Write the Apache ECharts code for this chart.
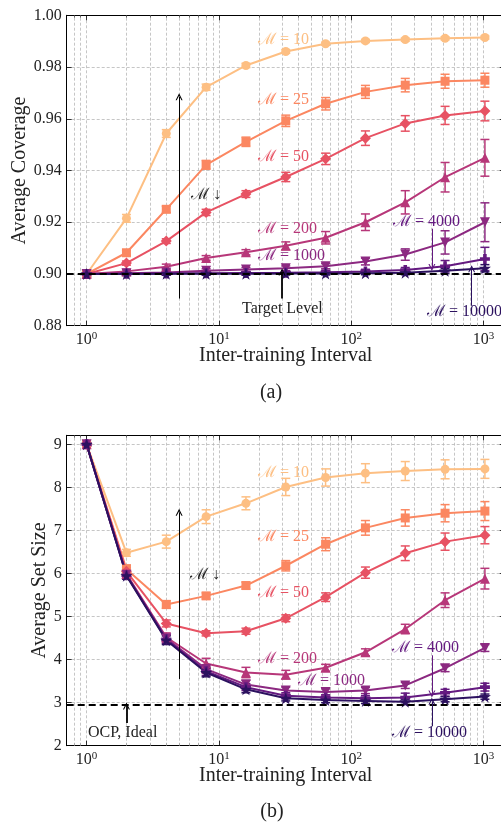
<!DOCTYPE html>
<html><head><meta charset="utf-8">
<script src="https://cdn.jsdelivr.net/npm/echarts@6/dist/echarts.min.js"></script>
<style>html,body{margin:0;padding:0;background:#fff}#c{width:501px;height:823px}</style>
</head><body><div id="c"></div>
<script>
// ---------------- DATA ----------------
const intervals = [1, 2, 4, 8, 16, 32, 64, 128, 256, 512, 1024];
const mLabels = ['10', '25', '50', '200', '1000', '4000', '10000'];

// (a) Average Coverage
const cov10 = [0.9000, 0.9215, 0.9543, 0.9722, 0.9806, 0.9860, 0.9890, 0.9901, 0.9906, 0.9911, 0.9914];
const cov10Err = [0.0008, 0.0015, 0.0015, 0.0012, 0.0008, 0.0007, 0.0006, 0.0006, 0.0006, 0.0006, 0.0006];
const cov25 = [0.9000, 0.9082, 0.9250, 0.9422, 0.9511, 0.9592, 0.9658, 0.9704, 0.9730, 0.9745, 0.9749];
const cov25Err = [0.0008, 0.0010, 0.0012, 0.0017, 0.0018, 0.0022, 0.0024, 0.0025, 0.0026, 0.0027, 0.0027];
const cov50 = [0.9000, 0.9042, 0.9127, 0.9238, 0.9309, 0.9375, 0.9445, 0.9525, 0.9582, 0.9613, 0.9630];
const cov50Err = [0.0008, 0.0008, 0.0009, 0.0012, 0.0013, 0.0018, 0.0022, 0.0028, 0.0030, 0.0035, 0.0038];
const cov200 = [0.9000, 0.9010, 0.9028, 0.9062, 0.9084, 0.9109, 0.9140, 0.9200, 0.9277, 0.9374, 0.9449];
const cov200Err = [0.0010, 0.0008, 0.0010, 0.0009, 0.0010, 0.0015, 0.0024, 0.0032, 0.0045, 0.0057, 0.0071];
const cov1000 = [0.9000, 0.9003, 0.9006, 0.9012, 0.9017, 0.9022, 0.9030, 0.9048, 0.9075, 0.9122, 0.9200];
const cov1000Err = [0.0012, 0.0008, 0.0008, 0.0008, 0.0008, 0.0009, 0.0010, 0.0013, 0.0022, 0.0045, 0.0075];
const cov4000 = [0.9000, 0.9001, 0.9002, 0.9003, 0.9004, 0.9005, 0.9007, 0.9010, 0.9015, 0.9030, 0.9058];
const cov4000Err = [0.0012, 0.0006, 0.0006, 0.0006, 0.0006, 0.0006, 0.0007, 0.0008, 0.0010, 0.0022, 0.0045];
const cov10000 = [0.9000, 0.9000, 0.9001, 0.9001, 0.9001, 0.9002, 0.9002, 0.9003, 0.9005, 0.9012, 0.9022];
const cov10000Err = [0.0015, 0.0006, 0.0006, 0.0006, 0.0006, 0.0006, 0.0006, 0.0006, 0.0008, 0.0010, 0.0014];

// (b) Average Set Size
const size10 = [9.00, 6.48, 6.74, 7.32, 7.63, 8.01, 8.23, 8.33, 8.38, 8.42, 8.43];
const size10Err = [0.04, 0.08, 0.15, 0.16, 0.15, 0.20, 0.20, 0.22, 0.22, 0.22, 0.22];
const size25 = [9.00, 6.10, 5.28, 5.48, 5.72, 6.18, 6.68, 7.06, 7.29, 7.40, 7.45];
const size25Err = [0.04, 0.10, 0.09, 0.07, 0.08, 0.12, 0.15, 0.17, 0.19, 0.20, 0.22];
const size50 = [9.00, 6.05, 4.84, 4.61, 4.66, 4.96, 5.45, 6.02, 6.47, 6.74, 6.89];
const size50Err = [0.04, 0.08, 0.08, 0.06, 0.07, 0.08, 0.10, 0.13, 0.17, 0.20, 0.20];
const size200 = [9.00, 5.99, 4.52, 3.91, 3.70, 3.65, 3.81, 4.17, 4.71, 5.38, 5.88];
const size200Err = [0.04, 0.08, 0.10, 0.12, 0.12, 0.10, 0.08, 0.08, 0.11, 0.17, 0.24];
const size1000 = [9.00, 5.97, 4.49, 3.78, 3.42, 3.28, 3.25, 3.28, 3.40, 3.80, 4.27];
const size1000Err = [0.04, 0.08, 0.10, 0.10, 0.10, 0.08, 0.07, 0.07, 0.07, 0.08, 0.08];
const size4000 = [9.00, 5.96, 4.47, 3.73, 3.36, 3.16, 3.12, 3.10, 3.12, 3.23, 3.36];
const size4000Err = [0.04, 0.08, 0.10, 0.10, 0.08, 0.07, 0.06, 0.06, 0.10, 0.08, 0.09];
const size10000 = [9.00, 5.95, 4.45, 3.70, 3.31, 3.10, 3.06, 3.04, 3.02, 3.08, 3.14];
const size10000Err = [0.04, 0.08, 0.10, 0.10, 0.08, 0.06, 0.06, 0.06, 0.06, 0.06, 0.06];

const targetLevel = 0.90;
const ocpIdeal = 2.94;

// axis ranges / ticks
const xMin = 0.707, xMax = 1445;
const xMinor = [0.8, 0.9, 2, 3, 4, 5, 6, 7, 8, 9, 20, 30, 40, 50, 60, 70, 80, 90, 200, 300, 400, 500, 600, 700, 800, 900];
const covMin = 0.88, covMax = 1.00, covStep = 0.02;
const sizeMin = 2, sizeMax = 9.21, sizeStep = 1;

// ---------------- STYLE ----------------
const colors = ['#fdbf83', '#fb8761', '#e75263', '#b73779', '#8c2981', '#641a80', '#2c115f'];
const STAR = 'path://M0,-10 L2.35,-3.24 L9.51,-3.09 L3.8,1.24 L5.88,8.09 L0,4 L-5.88,8.09 L-3.8,1.24 L-9.51,-3.09 L-2.35,-3.24 Z';
const PLUS = 'path://M-3.2,-9 L3.2,-9 L3.2,-3.2 L9,-3.2 L9,3.2 L3.2,3.2 L3.2,9 L-3.2,9 L-3.2,3.2 L-9,3.2 L-9,-3.2 L-3.2,-3.2 Z';
const markers = [
  {symbol: 'circle', size: 9, rot: 0},
  {symbol: 'rect', size: 9, rot: 0},
  {symbol: 'diamond', size: 11, rot: 0},
  {symbol: 'triangle', size: 10, rot: 0},
  {symbol: 'triangle', size: 10, rot: 180},
  {symbol: PLUS, size: 10, rot: 0},
  {symbol: STAR, size: 12, rot: 0}
];
const CHEVRON = 'path://M0,10 L5,0 L10,10 L8.4,10 L5,3.4 L1.6,10 Z';
const FONT = "'Liberation Serif', 'DejaVu Serif', serif";
const GRID_COLOR = '#b8b8b8';
const TXT = '#222';

const covSets = [[cov10, cov10Err], [cov25, cov25Err], [cov50, cov50Err], [cov200, cov200Err], [cov1000, cov1000Err], [cov4000, cov4000Err], [cov10000, cov10000Err]];
const sizeSets = [[size10, size10Err], [size25, size25Err], [size50, size50Err], [size200, size200Err], [size1000, size1000Err], [size4000, size4000Err], [size10000, size10000Err]];

const grids = [
  {left: 66.7, top: 15.3, width: 438, height: 310.4, containLabel: false, outerBoundsMode: 'none'},
  {left: 66.7, top: 435.3, width: 438, height: 310.4, containLabel: false, outerBoundsMode: 'none'}
];

function xLabelFmt(v) {
  const e = Math.log10(v);
  if (Math.abs(e - Math.round(e)) > 1e-6) return '';
  return '{b|10}{s|' + Math.round(e) + '}';
}
function xAxis(gridIndex, position, labels, split) {
  return {
    type: 'log', logBase: 10, gridIndex, position, min: xMin, max: xMax,
    axisLine: {show: true, onZero: false, lineStyle: {color: '#000', width: 1}},
    axisTick: {show: true, inside: true, length: 5, lineStyle: {color: '#000', width: 0.8}},
    axisLabel: {show: labels, formatter: xLabelFmt, margin: 5, showMinLabel: false, showMaxLabel: false,
      rich: {b: {fontFamily: FONT, fontSize: 16, color: TXT}, s: {fontFamily: FONT, fontSize: 11, color: TXT, verticalAlign: 'top', padding: [0, 0, 7, 0]}}},
    splitLine: {show: split, lineStyle: {color: GRID_COLOR, type: [3, 2], width: 0.8}},
    name: labels ? 'Inter-training Interval' : '', nameLocation: 'middle', nameGap: 20, nameMoveOverlap: false,
    nameTextStyle: {fontFamily: FONT, fontSize: 20, color: TXT}
  };
}
function xMinorAxis(gridIndex, position) {
  return {
    type: 'log', logBase: 10, gridIndex, position, min: xMin, max: xMax,
    axisLine: {show: false}, axisLabel: {show: false}, splitLine: {show: false},
    axisTick: {show: true, inside: true, length: 2.5, customValues: xMinor, lineStyle: {color: '#000', width: 0.6}}
  };
}
function yAxis(gridIndex, position, mn, mx, step, labels, name, gap, dec) {
  return {
    type: 'value', gridIndex, position, min: mn, max: mx, interval: step,
    axisLine: {show: true, lineStyle: {color: '#000', width: 1}},
    axisTick: {show: true, inside: true, length: 5, lineStyle: {color: '#000', width: 0.8}},
    axisLabel: {show: labels, margin: 5, fontFamily: FONT, fontSize: 16, color: TXT,
      formatter: v => {
        const k = (v - mn) / step;
        if (Math.abs(k - Math.round(k)) > 1e-6) return '';
        return v.toFixed(dec);
      }},
    splitLine: {show: labels, lineStyle: {color: GRID_COLOR, type: [3, 2], width: 0.8}},
    name: labels ? name : '', nameLocation: 'middle', nameGap: gap, nameMoveOverlap: false,
    nameTextStyle: {fontFamily: FONT, fontSize: 20, color: TXT}
  };
}

const series = [];
function addPanel(gi, sets) {
  const xi = gi * 2, yi = gi * 2;
  // minor vertical gridlines
  series.push({
    type: 'line', xAxisIndex: xi, yAxisIndex: yi, data: [], silent: true,
    markLine: {silent: true, symbol: 'none', z: 1, animation: false, label: {show: false},
      lineStyle: {color: GRID_COLOR, type: [3, 2], width: 0.8},
      data: xMinor.map(v => ({xAxis: v}))}
  });
  sets.forEach((s, k) => {
    const vals = s[0], errs = s[1], col = colors[k];
    series.push({
      type: 'custom', xAxisIndex: xi, yAxisIndex: yi, silent: true, z: 2,
      data: intervals.map((x, i) => [x, vals[i] - errs[i], vals[i] + errs[i]]),
      encode: {x: 0, y: [1, 2]},
      renderItem: (params, api) => {
        const x = api.value(0);
        const p1 = api.coord([x, api.value(1)]), p2 = api.coord([x, api.value(2)]);
        const cw = 4.5, st = {stroke: col, lineWidth: 1.5};
        return {type: 'group', children: [
          {type: 'line', shape: {x1: p1[0], y1: p1[1], x2: p2[0], y2: p2[1]}, style: st},
          {type: 'line', shape: {x1: p1[0] - cw, y1: p1[1], x2: p1[0] + cw, y2: p1[1]}, style: st},
          {type: 'line', shape: {x1: p2[0] - cw, y1: p2[1], x2: p2[0] + cw, y2: p2[1]}, style: st}
        ]};
      }
    });
    series.push({
      type: 'line', name: 'M=' + mLabels[k], xAxisIndex: xi, yAxisIndex: yi, silent: true, z: 2,
      data: intervals.map((x, i) => [x, vals[i]]),
      symbol: markers[k].symbol, symbolSize: markers[k].size, symbolRotate: markers[k].rot,
      showSymbol: true, lineStyle: {color: col, width: 2}, itemStyle: {color: col}
    });
  });
}
addPanel(0, covSets);
addPanel(1, sizeSets);

function arrow(x, y0, y1, color, w) {
  return [
    {coord: [x, y0], symbol: 'none', lineStyle: {color, width: w, type: 'solid'}},
    {coord: [x, y1], symbol: CHEVRON, symbolSize: [7, 7], lineStyle: {color, width: w, type: 'solid'}}
  ];
}
// reference lines + arrows
series.push({
  type: 'line', xAxisIndex: 0, yAxisIndex: 0, data: [], silent: true,
  markLine: {silent: true, animation: false, label: {show: false}, symbol: 'none', z: 6,
    data: [
      [{xAxis: xMin, yAxis: targetLevel, symbol: 'none', lineStyle: {color: '#000', width: 2, type: [7, 4]}},
       {xAxis: xMax, yAxis: targetLevel, symbol: 'none', lineStyle: {color: '#000', width: 2, type: [7, 4]}}],
      arrow(5, 0.8905, 0.9685, '#000', 1),
      arrow(30, 0.8905, 0.9008, '#000', 1.8),
      arrow(407, 0.9175, 0.9025, colors[5], 1),
      arrow(813, 0.8877, 0.9020, colors[6], 1)
    ]}
});
series.push({
  type: 'line', xAxisIndex: 2, yAxisIndex: 2, data: [], silent: true,
  markLine: {silent: true, animation: false, label: {show: false}, symbol: 'none', z: 6,
    data: [
      [{xAxis: xMin, yAxis: ocpIdeal, symbol: 'none', lineStyle: {color: '#000', width: 2, type: [7, 4]}},
       {xAxis: xMax, yAxis: ocpIdeal, symbol: 'none', lineStyle: {color: '#000', width: 2, type: [7, 4]}}],
      arrow(5, 3.55, 7.42, '#000', 1),
      arrow(2, 2.53, 2.92, '#000', 1.8),
      arrow(407, 4.10, 3.20, colors[5], 1),
      arrow(407, 2.45, 3.03, colors[6], 1)
    ]}
});

// annotation texts
const notes = [
  ['ℳ = 10', 258, 40, colors[0]], ['ℳ = 25', 258, 100, colors[1]], ['ℳ = 50', 258, 157, colors[2]],
  ['ℳ = 200', 258, 229, colors[3]], ['ℳ = 1000', 258, 256, colors[4]], ['ℳ = 4000', 393, 222, colors[5]],
  ['ℳ = 10000', 427, 312, colors[6]], ['ℳ ↓', 191, 195, TXT], ['Target Level', 242, 309, TXT],
  ['ℳ = 10', 258, 473, colors[0]], ['ℳ = 25', 258, 537, colors[1]], ['ℳ = 50', 258, 593, colors[2]],
  ['ℳ = 200', 258, 659, colors[3]], ['ℳ = 1000', 298, 681, colors[4]], ['ℳ = 4000', 392, 648, colors[5]],
  ['ℳ = 10000', 392, 733, colors[6]], ['ℳ ↓', 190, 575, TXT], ['OCP, Ideal', 88, 733, TXT]
];
const graphic = notes.map(n => ({
  type: 'text', x: n[1], y: n[2], silent: true, z: 10,
  style: {text: n[0], fill: n[3], font: '16px ' + FONT, textAlign: 'left', textVerticalAlign: 'middle', align: 'left', verticalAlign: 'middle'}
}));
graphic.push({type: 'text', x: 271, y: 393, style: {text: '(a)', fill: TXT, font: '20px ' + FONT, textAlign: 'center', textVerticalAlign: 'middle', align: 'center', verticalAlign: 'middle'}});
graphic.push({type: 'text', x: 272, y: 812, style: {text: '(b)', fill: TXT, font: '20px ' + FONT, textAlign: 'center', textVerticalAlign: 'middle', align: 'center', verticalAlign: 'middle'}});

const option = {
  animation: false,
  backgroundColor: '#fff',
  grid: grids,
  xAxis: [xAxis(0, 'bottom', true, true), xAxis(0, 'top', false, false), xAxis(1, 'bottom', true, true), xAxis(1, 'top', false, false),
          xMinorAxis(0, 'bottom'), xMinorAxis(0, 'top'), xMinorAxis(1, 'bottom'), xMinorAxis(1, 'top')],
  yAxis: [
    yAxis(0, 'left', covMin, covMax, covStep, true, 'Average Coverage', 37, 2),
    yAxis(0, 'right', covMin, covMax, covStep, false, '', 0, 2),
    yAxis(1, 'left', sizeMin, sizeMax, sizeStep, true, 'Average Set Size', 17, 0),
    yAxis(1, 'right', sizeMin, sizeMax, sizeStep, false, '', 0, 0)
  ],
  series,
  graphic
};
const chart = echarts.init(document.getElementById('c'), null, {renderer: 'canvas'});
chart.setOption(option);
</script></body></html>
